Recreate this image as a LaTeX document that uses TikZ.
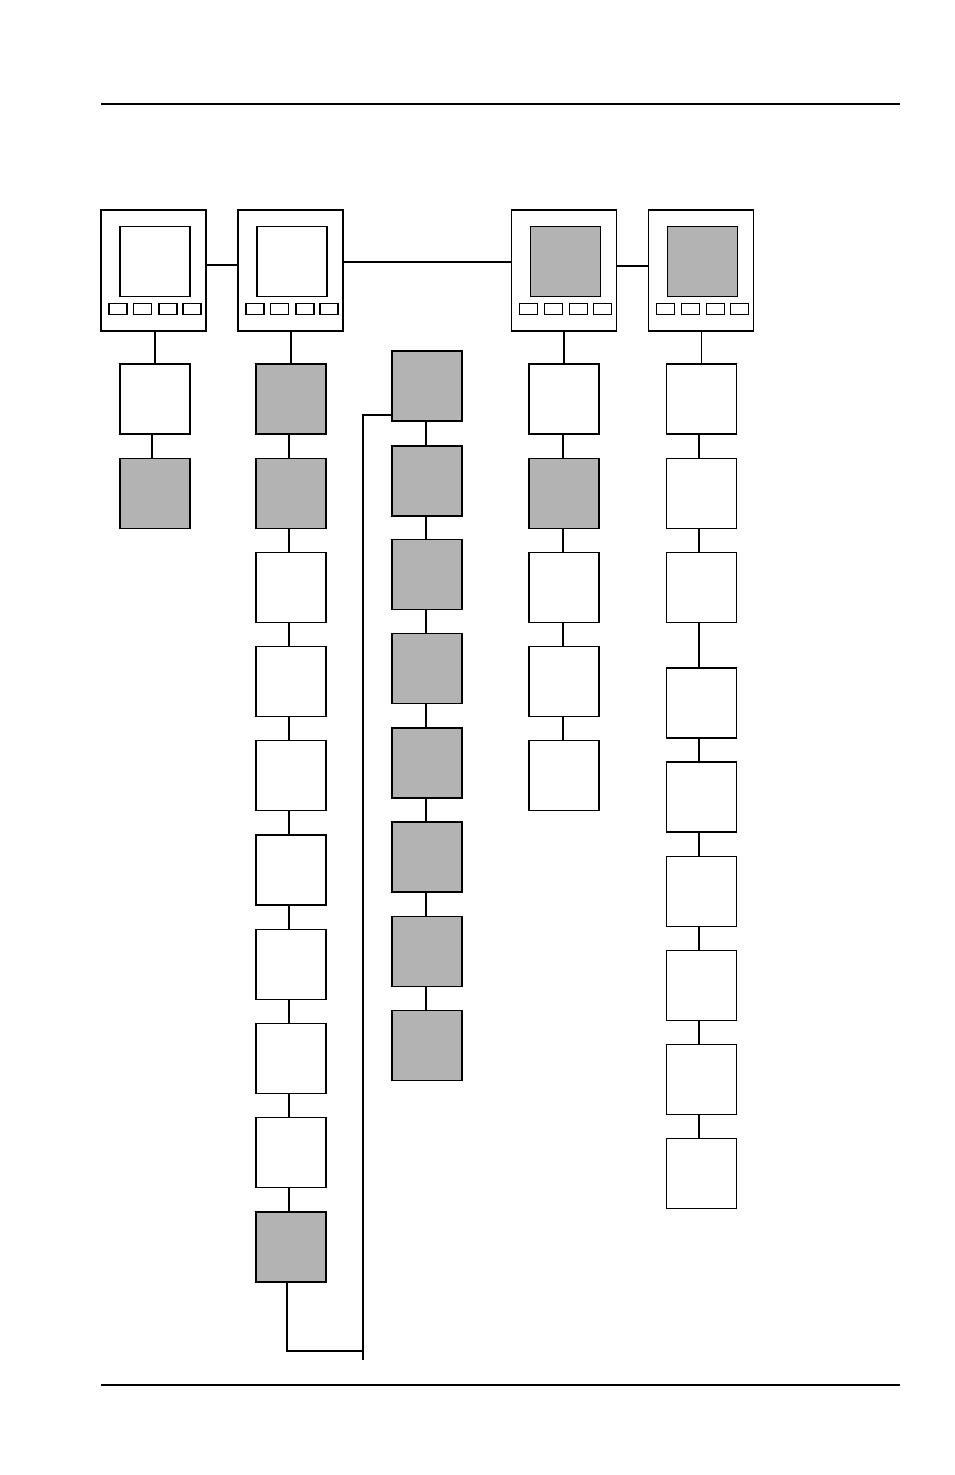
\documentclass[tikz,border=0pt]{standalone}
\definecolor{scr}{RGB}{179,179,179}
\tikzset{
  box/.style={draw,line width=1.6pt,minimum width=70pt,minimum height=70pt,inner sep=0pt,outer sep=0pt},
  wbox/.style={box,fill=white},
  gbox/.style={box,fill=scr},
  panelbox/.style={draw,line width=1.6pt,minimum width=105pt,minimum height=121pt,inner sep=0pt,outer sep=0pt},
  screen/.style={draw,line width=1.6pt,minimum width=70pt,minimum height=70pt,inner sep=0pt,outer sep=0pt},
  btn/.style={draw,line width=1.3pt,minimum width=18pt,minimum height=11pt,inner sep=0pt,outer sep=0pt},
  thinbtn/.style={btn,line width=0.7pt},
  boldbtn/.style={btn,line width=1.8pt},
  conn/.style={line width=1.2pt},
  thick conn/.style={line width=2pt},
  rule/.style={line width=1.5pt}
}
\newcommand\mypanel[4]{% name, left x, top y, screen fill
  \node[panelbox] (#1) at (#2+52.5,#3+60.5) {};
  \node[screen,fill=#4] (#1s) at (#2+54,#3+51.5) {};
  \node[btn] (#1b1) at (#2+17,#3+99) {};
  \node[thinbtn] (#1b2) at (#2+41.5,#3+99) {};
  \node[boldbtn] (#1b3) at (#2+67,#3+99) {};
  \node[boldbtn] (#1b4) at (#2+91,#3+99) {};
}
\begin{document}
\begin{tikzpicture}[x=1pt,y=-1pt]
\useasboundingbox (0,0) rectangle (954,1475);
% rules
\coordinate (tl) at (101,104); \coordinate (tr) at (900,104);
\coordinate (bl) at (101,1385); \coordinate (br) at (900,1385);
\draw[rule] (tl) -- (tr);
\draw[rule] (bl) -- (br);
% panels
\mypanel{p1}{101}{210}{white}
\mypanel{p2}{238}{210}{white}
\mypanel{p3}{511.5}{210}{scr}
\mypanel{p4}{648.5}{210}{scr}
\draw[thick conn] ([yshift=5.5pt]p1.east) -- ([yshift=5.5pt]p2.west);
\draw[thick conn] ([yshift=8.5pt]p2.east) -- ([yshift=8.5pt]p3.west);
\draw[conn] ([yshift=4.5pt]p3.east) -- ([yshift=4.5pt]p4.west);
% column 1
\node[wbox] (c1a) at (155,399) {};
\node[gbox] (c1b) at (155,493.5) {};
\draw[conn] (c1a.north |- p1.south) -- (c1a.north);
\draw[thick conn] ([xshift=-3pt]c1a.south) -- ([xshift=-3pt]c1b.north);
% column 2
\node[gbox] (c2a) at (291,399) {};
\node[gbox] (c2b) at (291,493.5) {};
\node[wbox] (c2c) at (291,587.5) {};
\node[wbox] (c2d) at (291,681.5) {};
\node[wbox] (c2e) at (291,775.5) {};
\node[wbox] (c2f) at (291,870) {};
\node[wbox] (c2g) at (291,964.5) {};
\node[wbox] (c2h) at (291,1058.5) {};
\node[wbox] (c2i) at (291,1152.5) {};
\node[gbox] (c2j) at (291,1247) {};
\draw[thick conn] (c2a.north |- p2.south) -- (c2a.north);
\foreach \a/\b in {c2a/c2b,c2b/c2c,c2c/c2d,c2d/c2e,c2e/c2f,c2f/c2g,c2g/c2h,c2h/c2i,c2i/c2j}
  \draw[conn] ([xshift=-2pt]\a.south) -- ([xshift=-2pt]\b.north);
% column 3
\node[gbox] (c3a) at (427,386) {};
\node[gbox] (c3b) at (427,481) {};
\node[gbox] (c3c) at (427,574.5) {};
\node[gbox] (c3d) at (427,668.5) {};
\node[gbox] (c3e) at (427,763) {};
\node[gbox] (c3f) at (427,857) {};
\node[gbox] (c3g) at (427,951.5) {};
\node[gbox] (c3h) at (427,1045.5) {};
\foreach \a/\b in {c3a/c3b,c3b/c3c,c3c/c3d,c3d/c3e,c3e/c3f,c3f/c3g,c3g/c3h}
  \draw[conn] ([xshift=-1pt]\a.south) -- ([xshift=-1pt]\b.north);
% loop connector
\coordinate (lc) at (362.5,1350.5);
\coordinate (lbot) at (362.5,1360);
\coordinate (ltop) at (362.5,414.5);
\draw[thick conn] ([xshift=-4pt]c2j.south) |- (lc);
\draw[thick conn] (lbot) -- (ltop) -- (ltop -| c3a.west);
% column 4
\node[wbox] (c4a) at (564,399) {};
\node[gbox] (c4b) at (564,493.5) {};
\node[wbox] (c4c) at (564,587.5) {};
\node[wbox] (c4d) at (564,681.5) {};
\node[wbox] (c4e) at (564,775.5) {};
\draw[conn] (c4a.north |- p3.south) -- (c4a.north);
\foreach \a/\b in {c4a/c4b,c4b/c4c,c4c/c4d,c4d/c4e}
  \draw[thick conn] ([xshift=-1.5pt]\a.south) -- ([xshift=-1.5pt]\b.north);
% column 5
\node[wbox] (c5a) at (701.5,399) {};
\node[wbox] (c5b) at (701.5,493.5) {};
\node[wbox] (c5c) at (701.5,587.5) {};
\node[wbox] (c5d) at (701.5,703) {};
\node[wbox] (c5e) at (701.5,797) {};
\node[wbox] (c5f) at (701.5,891.5) {};
\node[wbox] (c5g) at (701.5,985.5) {};
\node[wbox] (c5h) at (701.5,1079.5) {};
\node[wbox] (c5i) at (701.5,1173.5) {};
\draw[conn] (c5a.north |- p4.south) -- (c5a.north);
\foreach \a/\b in {c5a/c5b,c5b/c5c,c5c/c5d,c5d/c5e,c5e/c5f,c5f/c5g,c5g/c5h,c5h/c5i}
  \draw[thick conn] ([xshift=-2.5pt]\a.south) -- ([xshift=-2.5pt]\b.north);
\end{tikzpicture}
\end{document}
